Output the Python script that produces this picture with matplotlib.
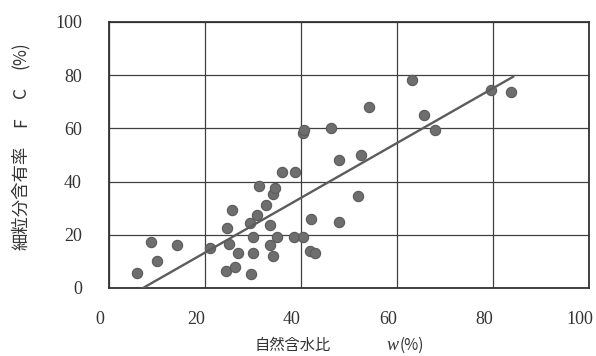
import matplotlib
matplotlib.use("Agg")
import matplotlib.pyplot as plt
from matplotlib.transforms import ScaledTranslation
import numpy as np

# 自然含水比 w (%) と 細粒分含有率 FC (%)
w_pct = [5.8, 8.8, 9.9, 14.2, 21.1, 24.4, 26.3, 29.6, 26.9, 29.9,
         25.1, 29.9, 34.9, 38.5, 40.4, 33.5, 34.1, 41.9, 43.0, 24.6,
         29.4, 33.5, 30.9, 25.7, 32.8, 42.0, 47.9, 34.2, 34.6, 31.3,
         36.0, 38.7, 40.4, 40.7, 46.2, 48.0, 52.4, 51.9, 54.2, 63.2,
         65.6, 68.0, 79.5, 83.8]
fc_pct = [5.8, 17.3, 10.0, 16.0, 15.2, 6.5, 7.8, 5.3, 13.0, 13.0,
          16.4, 19.3, 19.3, 19.3, 19.3, 16.0, 12.0, 13.9, 13.2, 22.4,
          24.4, 23.7, 27.5, 29.5, 31.1, 26.0, 24.9, 35.5, 37.5, 38.4,
          43.5, 43.5, 58.3, 59.5, 60.3, 48.2, 50.0, 34.6, 68.2, 78.1,
          65.1, 59.5, 74.3, 73.5]

# 回帰直線 FC = a*w + b
fit_slope = 1.03
fit_intercept = -7.3
fit_range = [7.1, 84.2]

ticks = [0, 20, 40, 60, 80, 100]

W, H = 596, 356
fig = plt.figure(figsize=(W / 100, H / 100), dpi=100)
fig.patch.set_facecolor("white")
ax = fig.add_axes([109 / W, 68 / H, 480 / W, 266 / H])

ax.set_xlim(0, 100)
ax.set_ylim(0, 100)
ax.set_xticks(ticks)
ax.set_yticks(ticks)
ax.set_xticklabels([str(t) for t in ticks], fontfamily="Liberation Serif", fontsize=13, color="#333333")
ax.set_yticklabels([str(t) for t in ticks], fontfamily="Liberation Serif", fontsize=13, color="#333333")
ax.tick_params(axis="both", length=0)
ax.tick_params(axis="x", pad=16.5)
ax.tick_params(axis="y", pad=19.5)

# 目盛ラベルを少し左へずらす
shift = ScaledTranslation(-9 / 100, 0, fig.dpi_scale_trans)
for lab in ax.get_xticklabels():
    lab.set_transform(lab.get_transform() + shift)

ax.grid(True, color="#404040", linewidth=0.9)
ax.set_axisbelow(True)
for sp in ax.spines.values():
    sp.set_color("#333333")
    sp.set_linewidth(1.3)

ax.scatter(w_pct, fc_pct, s=55, color="#6e6e6e", edgecolors="#5a5a5a",
           linewidths=0.8, zorder=3, clip_on=False)

xs = np.array(fit_range)
ax.plot(xs, fit_slope * xs + fit_intercept, color="#5c5c5c", linewidth=1.7, zorder=4)

jp = ["Noto Sans CJK JP", "DejaVu Sans"]

# 縦軸ラベル（部分ごとに配置）
ylab_x = 21 / W
for txt, yc in [("細粒分含有率", 198), ("F", 122), ("C", 92), ("(%)", 55)]:
    fig.text(ylab_x, 1 - yc / H, txt, rotation=90, ha="center", va="center",
             fontsize=12.5, color="#333333", family=jp)

# 横軸ラベル
fig.text(255 / W, 1 - 345 / H, "自然含水比", ha="left", va="center",
         fontsize=11, color="#333333", family=jp)
fig.text(387 / W, 1 - 345 / H, "w", ha="left", va="center", fontsize=13,
         style="italic", color="#333333", fontfamily="Liberation Serif")
fig.text(400 / W, 1 - 345 / H, "(%)", ha="left", va="center",
         fontsize=11, color="#333333", family=jp)

fig.savefig("out.png", dpi=100, facecolor="white")
